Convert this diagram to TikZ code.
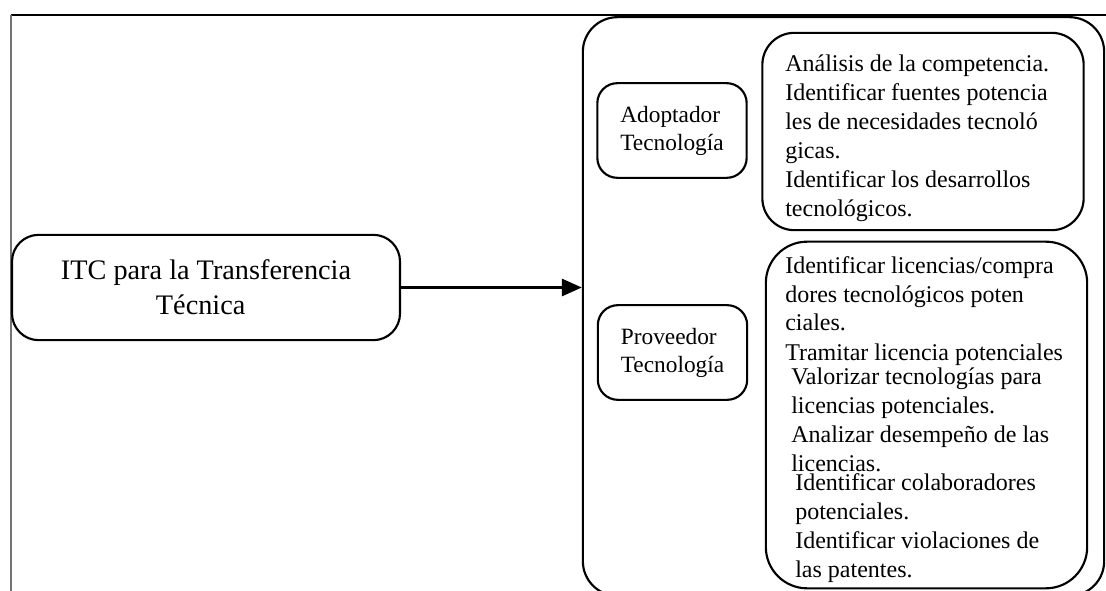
\documentclass[tikz,border=0pt]{standalone}
\usepackage{fontspec}
\setmainfont{Liberation Serif}
\usepackage{tikz}
\usetikzlibrary{arrows.meta, positioning}

\begin{document}
\begin{tikzpicture}[x=0.75pt, y=-0.75pt,
  rbox/.style={rectangle, draw, line width=1.6pt, inner sep=0pt},
  role/.style={rbox, rounded corners=15pt, minimum width=112pt, minimum height=71pt,
               align=left, font=\fontsize{17.5}{21}\selectfont},
  list/.style={rbox, minimum width=241pt},
  txt/.style={align=left, inner sep=0pt, anchor=base west, font=\fontsize{18}{21.75}\selectfont},
  arr/.style={-{Triangle[length=15pt, width=13pt]}, line width=1.6pt}
]
  \useasboundingbox (0,0) rectangle (1106,591);
  % frame
  \draw[line width=0.8pt] (1106,15) -- (11,15);
  \draw[line width=0.8pt, black!55] (11,15) -- (11,591);

  \node[rbox, rounded corners=20pt, minimum width=291pt, minimum height=79pt, align=center,
        font=\fontsize{21.2}{26.25}\selectfont] (I) at (206,287.5)
        {ITC para la Transferencia\\Técnica\hspace*{8pt}};
  \node[rbox, rounded corners=26pt, minimum width=391pt, minimum height=434pt] (C) at (843.5,306.5) {};

  \node[role] (A) at (672,130.5) {Adoptador\\Tecnología};
  \node[role] (P) at (672.5,352.5) {Proveedor\\Tecnología};

  \node[list, rounded corners=24pt, minimum height=148pt] (LA) at (923,131.5) {};
  \node[list, rounded corners=31pt, minimum height=260pt] (LP) at (926.5,415) {};

  % text anchored at the baseline of its last line
  \node[txt] (tA) at (785,217) {Análisis de la competencia.\\
    Identificar fuentes potencia\\les de necesidades tecnoló\\gicas.\\
    Identificar los desarrollos\\tecnológicos.};
  \node[txt] (tP1) at (785,360) {Identificar licencias/compra\\dores tecnológicos poten\\ciales.\\
    Tramitar licencia potenciales};
  \node[txt] (tP2) at (791,471) {Valorizar tecnologías para\\licencias potenciales.\\
    Analizar desempeño de las\\licencias.};
  \node[txt] (tP3) at (795,577) {Identificar colaboradores\\potenciales.\\
    Identificar violaciones de\\las patentes.};

  \draw[arr] (I.east) -- (I.east -| C.west);
\end{tikzpicture}
\end{document}
